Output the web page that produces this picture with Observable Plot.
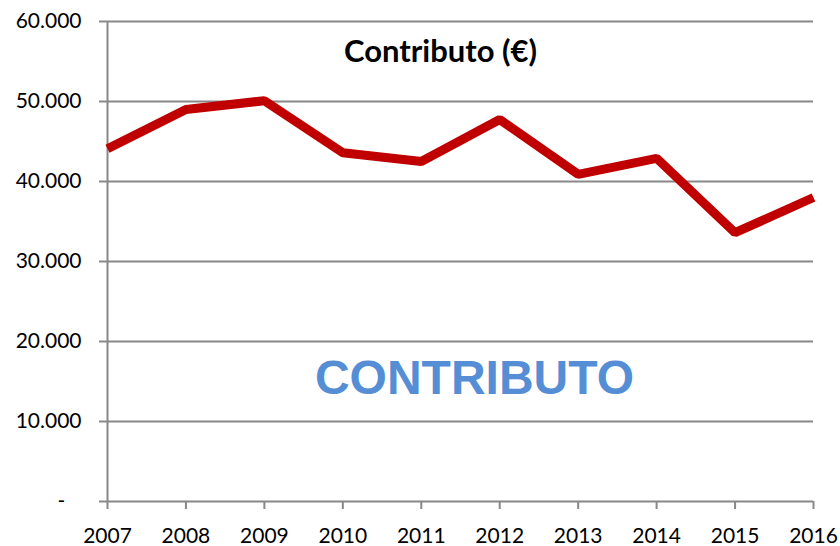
<!DOCTYPE html>
<html><head><meta charset="utf-8">
<script src="https://cdn.jsdelivr.net/npm/d3@7"></script>
<script src="https://cdn.jsdelivr.net/npm/@observablehq/plot@0.6"></script>
<style>body{margin:0;background:#fff}</style>
</head><body><div id="chart"></div>
<script>
const years = [2007, 2008, 2009, 2010, 2011, 2012, 2013, 2014, 2015, 2016];
const contributo = [44100, 49000, 50100, 43600, 42500, 47750, 40900, 42900, 33600, 38000];
const yTicks = [0, 10000, 20000, 30000, 40000, 50000, 60000];
const titleText = "Contributo (€)";
const watermark = "CONTRIBUTO";

const data = years.map((y, i) => ({year: y, value: contributo[i]}));
const fmtY = d => d === 0 ? "-\u00a0\u00a0\u00a0" : d3.format(",")(d).replace(/,/g, ".");

const chart = Plot.plot({
  width: 840, height: 546,
  marginLeft: 107, marginRight: 27, marginTop: 21, marginBottom: 45,
  style: {fontFamily: "Lato, 'Open Sans', sans-serif", fontSize: "21px", color: "black", background: "white"},
  x: {domain: [2007, 2016], ticks: years, tickFormat: d => String(d)},
  y: {domain: [0, 60000], ticks: yTicks, tickFormat: fmtY},
  marks: [
    Plot.gridY(yTicks, {stroke: "#888", strokeOpacity: 1, strokeWidth: 2}),
    Plot.ruleX([years[0]], {stroke: "#888", strokeWidth: 2}),
    Plot.axisY({ticks: yTicks, tickFormat: fmtY, tickSize: 8, tickPadding: 18, stroke: "#888", strokeWidth: 2, label: null, fill: "black"}),
    Plot.axisX({ticks: years, tickFormat: d => String(d), tickSize: 8, tickPadding: 19, stroke: "#888", strokeWidth: 2, label: null, fill: "black"}),
    Plot.line(data, {x: "year", y: "value", stroke: "#C00000", strokeWidth: 9, strokeLinejoin: "miter", strokeLinecap: "butt"}),
    Plot.text([titleText], {frameAnchor: "top", dx: -20, dy: 31, lineAnchor: "middle", fontSize: 31, fontWeight: "bold", fill: "black"}),
    Plot.text([watermark], {frameAnchor: "top", dx: 14, dy: 357, lineAnchor: "middle", fontSize: 48, fontWeight: "bold", fill: "#558ED5", fontFamily: "'Liberation Sans', Arial, sans-serif"})
  ]
});
document.getElementById("chart").appendChild(chart);
</script></body></html>
